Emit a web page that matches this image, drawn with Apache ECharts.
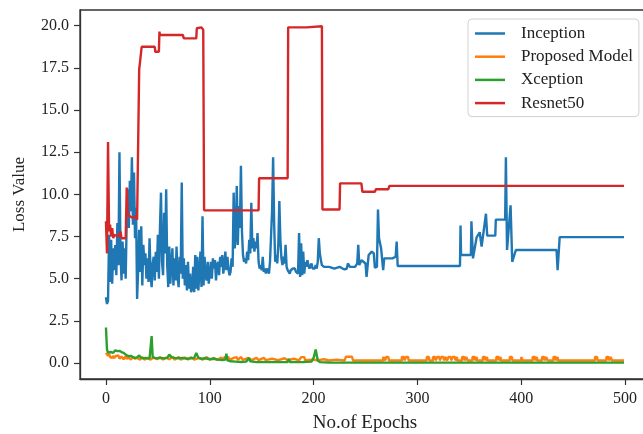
<!DOCTYPE html>
<html>
<head>
<meta charset="utf-8">
<script src="https://cdn.jsdelivr.net/npm/echarts@6/dist/echarts.min.js"></script>
<style>
html,body{margin:0;padding:0;background:#fff;}
#chart{width:643px;height:434px;}
</style>
</head>
<body>
<div id="chart"></div>
<script>
const seriesNames = ['Inception', 'Proposed Model', 'Xception', 'Resnet50'];
const xTicks = [0, 100, 200, 300, 400, 500];
const yTicks = [0, 2.5, 5, 7.5, 10, 12.5, 15, 17.5, 20];

const inception = [
[0,3.9],[1,3.5],[2,3.7],[3,7.6],[4,4.8],[5,7.3],[6,4.7],[7,6.8],[8,5.5],[9,7.0],
[10,5.2],[11,8.3],[12,5.8],[13,12.5],[14,6.5],[15,4.9],[16,7.2],[17,5.3],[18,6.8],[19,5.0],
[20,8.5],[21,10.3],[22,8.0],[23,10.8],[24,9.0],[25,12.2],[26,8.2],[27,11.3],[28,7.4],[29,9.2],
[30,3.8],[31,5.5],[32,7.9],[33,5.4],[34,8.1],[35,4.6],[36,7.0],[37,5.8],[38,6.5],[39,5.0],
[40,6.2],[41,4.8],[42,7.4],[43,5.2],[44,4.5],[45,5.9],[46,6.3],[47,4.9],[48,6.6],[49,5.4],
[50,7.6],[51,5.0],[52,8.0],[53,10.1],[54,6.0],[55,5.2],[56,8.9],[57,6.5],[58,10.3],[59,5.8],
[60,4.5],[61,6.9],[62,4.7],[63,5.9],[64,6.8],[65,4.6],[66,6.2],[67,4.9],[68,6.9],[69,5.1],
[70,4.5],[71,6.3],[72,5.3],[73,10.7],[74,5.0],[75,6.2],[76,4.6],[77,5.8],[78,4.3],[79,6.0],
[80,4.4],[81,5.3],[82,4.2],[83,4.4],[84,5.7],[85,4.2],[86,6.4],[87,4.4],[88,6.3],[89,4.3],
[90,5.4],[91,6.6],[92,4.5],[93,8.7],[94,4.6],[95,6.3],[96,5.1],[97,4.9],[98,6.0],[99,4.7],
[100,5.3],[101,6.0],[102,5.0],[103,6.2],[104,5.6],[105,6.1],[106,4.9],[107,5.8],[108,6.0],[109,5.2],
[110,6.3],[111,5.7],[112,6.4],[113,5.3],[114,5.8],[115,6.6],[116,5.5],[117,6.3],[118,5.6],[119,5.2],
[120,5.4],[121,6.2],[122,5.7],[123,10.1],[124,6.8],[125,7.5],[126,10.5],[127,7.0],[128,9.3],[129,8.0],
[130,11.7],[131,7.8],[132,6.4],[133,6.0],[134,6.2],[135,5.9],[136,6.6],[137,6.1],[138,7.3],[139,6.5],
[140,9.5],[141,6.8],[142,7.4],[143,6.6],[144,7.2],[145,6.8],[146,7.7],[147,6.0],[148,5.6],[149,5.8],
[150,5.5],[151,6.3],[152,5.4],[153,5.6],[154,5.3],[155,5.6],[156,5.5],[157,5.3],[158,6.0],[159,7.5],
[160,9.0],[161,12.2],[162,8.3],[163,6.0],[164,6.4],[165,5.9],[166,7.0],[167,9.6],[168,7.3],[169,6.2],
[170,5.8],[171,6.3],[172,5.9],[173,7.0],[174,5.7],[175,5.5],[176,5.6],[177,5.3],[178,5.5],[179,5.4],
[180,5.6],[181,5.5],[182,5.6],[183,5.4],[184,5.5],[185,5.3],[186,7.7],[187,5.1],[188,7.1],[189,5.2],
[190,6.6],[191,5.3],[192,6.0],[193,5.7],[194,6.1],[195,5.8],[196,5.6],[197,5.7],[198,5.9],[199,5.6],
[200,5.7],[201,5.6],[202,5.8],[203,5.6],[204,6.0],[205,7.4],[206,6.5],[207,6.1],[208,5.8],[210,5.7],
[215,5.7],[220,5.6],[225,5.7],[228,5.6],[230,5.55],[232,5.6],[233,5.9],[235,5.7],[240,5.7],[242,5.9],
[243,7.0],[244,5.8],[246,6.1],[248,6.0],[250,5.9],[251,5.1],[253,6.4],[256,6.6],[258,6.5],[259,5.65],
[261,5.7],[262,9.1],[263,7.4],[264,7.4],[265,6.8],[267,5.5],[268,6.2],[272,6.2],[276,6.2],[279,6.3],
[280,7.2],[281,5.75],[341,5.75],[341.5,8.15],[342,6.4],[351.5,6.4],[352,8.4],[353.5,6.2],[357,7.45],[360,7.75],
[361.8,6.9],[366,8.85],[367.2,7.55],[375,7.55],[375.5,8.5],[384.5,8.5],[385.2,12.2],[386.3,6.7],[389.7,9.35],[391.3,6.0],
[394.8,6.7],[434,6.7],[435,5.5],[437,7.46],[499,7.46]
];

const proposed = [
[0,0.6],[1,0.5],[2,0.42],[3,0.55],[4,0.35],[5,0.45],[6,0.3],[7,0.42],[8,0.28],[9,0.4],
[10,0.3],[12,0.45],[13,0.25],[15,0.38],[17,0.22],[19,0.4],[20,0.25],[22,0.32],[24,0.2],[26,0.35],
[28,0.25],[30,0.3],[33,0.2],[35,0.35],[37,0.2],[40,0.3],[43,0.2],[46,0.32],[49,0.22],[52,0.35],
[55,0.2],[58,0.32],[61,0.22],[64,0.38],[66,0.2],[70,0.35],[72,0.2],[76,0.32],[79,0.2],[82,0.35],
[85,0.2],[90,0.3],[93,0.2],[97,0.35],[100,0.2],[104,0.3],[107,0.18],[111,0.32],[113,0.18],[114,0.35],
[118,0.35],[119,0.18],[123,0.3],[126,0.35],[127,0.18],[130,0.35],[132,0.18],[137,0.3],[140,0.17],[145,0.3],
[147,0.17],[152,0.3],[154,0.17],[160,0.25],[166,0.17],[172,0.28],[175,0.16],[181,0.25],[186,0.16],[188,0.35],
[191,0.35],[192,0.16],[198,0.2],[204,0.16],[210,0.22],[215,0.15],[222,0.2],[230,0.15],[231,0.37],[237,0.37],
[238,0.15],[267,0.15],[267,0.36],[268,0.36],[269,0.15],[270,0.36],[272,0.36],[272.5,0.15],
[285,0.15],[285,0.36],[287,0.36],[287.5,0.15],[289,0.36],[291,0.36],[291.5,0.15],
[309,0.15],[309,0.36],[311,0.36],[311.5,0.15],
[315,0.15],[315,0.36],[317,0.36],[317.5,0.15],[319,0.36],[321,0.36],[321.5,0.15],[323,0.36],[325,0.36],[325.5,0.15],
[327,0.36],[328,0.36],[328.5,0.15],[330,0.36],[332,0.36],[332.5,0.15],[334,0.36],[336,0.36],[336.5,0.15],[338,0.36],[338.5,0.15],
[343,0.15],[343,0.36],[345,0.36],[345.5,0.15],[347,0.36],[348,0.36],[348.5,0.15],
[353,0.15],[353,0.36],[355,0.36],[355.5,0.15],[357,0.36],[357.5,0.15],
[363,0.15],[363,0.36],[365,0.36],[365.5,0.15],[367,0.36],[367.5,0.15],
[376,0.15],[376,0.36],[378,0.36],[378.5,0.15],[380,0.36],[380.5,0.15],
[389,0.15],[389,0.36],[391,0.36],[391.5,0.15],
[400,0.15],[400,0.36],[401,0.36],[401.5,0.15],
[411,0.15],[411,0.36],[413,0.36],[413.5,0.15],[415,0.36],[415.5,0.15],
[420,0.15],[420,0.36],[422,0.36],[422.5,0.15],[424,0.36],[425,0.36],[425.5,0.15],
[431,0.15],[431,0.36],[433,0.36],[433.5,0.15],[435,0.36],[435.5,0.15],
[471,0.15],[471,0.36],[473,0.36],[473.5,0.15],
[482,0.15],[482,0.36],[484,0.36],[484.5,0.15],[486,0.36],[487,0.36],[487.5,0.15],
[499,0.15]
];

const xception = [
[0,2.1],[1,0.8],[2,0.62],[3,0.6],[5,0.65],[7,0.6],[9,0.75],[11,0.7],[13,0.72],[15,0.65],
[17,0.6],[18,0.55],[20,0.45],[22,0.4],[24,0.42],[26,0.35],[28,0.3],[30,0.33],[32,0.45],[34,0.3],
[36,0.28],[38,0.3],[40,0.27],[42,0.28],[43,0.3],[44,1.6],[45,0.35],[47,0.3],[50,0.28],[53,0.3],
[56,0.27],[59,0.3],[61,0.5],[63,0.35],[66,0.3],[70,0.28],[74,0.3],[78,0.25],[82,0.28],[85,0.3],
[87,0.6],[89,0.3],[92,0.25],[96,0.28],[100,0.22],[104,0.25],[108,0.2],[112,0.18],[115,0.2],[116,0.55],
[117,0.15],[120,0.1],[125,0.08],[130,0.06],[135,0.08],[138,0.3],[139,0.1],[145,0.05],[150,0.06],[155,0.05],
[160,0.05],[165,0.06],[170,0.05],[175,0.06],[176,0.25],[177,0.06],[185,0.05],[190,0.06],[198,0.08],[200,0.3],
[202,0.8],[204,0.15],[206,0.05],[215,0.03],[230,0.02],[260,0.02],[300,0.02],[400,0.02],[499,0.02]
];

const resnet50 = [
[0,8.4],[1,6.5],[2,13.1],[3,7.8],[4,8.2],[5,7.5],[6,8.0],[7,7.4],[8,7.6],[12,7.5],
[14,7.8],[15,7.4],[19,7.4],[20,10.4],[21,8.8],[23,8.7],[26,8.6],[28,8.7],[30,8.5],[31,8.4],
[32,17.4],[33,17.5],[34.4,18.75],[47,18.75],[47.5,18.45],[51,18.45],[51.5,19.65],[52,19.45],[74,19.45],[75,19.25],
[87,19.25],[87.5,19.85],[92,19.9],[93.7,19.75],[94.5,9.05],[147,9.05],[147.5,10.95],[175,10.95],[175.5,19.9],[193,19.9],
[193.5,19.97],[208,19.97],[208.5,9.1],[225,9.1],[225.5,10.65],[246,10.65],[247,10.15],[259,10.15],[260,10.3],[272,10.3],
[273,10.5],[499,10.5]
];

const colors = ['#1f77b4', '#ff7f0e', '#2ca02c', '#d62728'];
const dataList = [inception, proposed, xception, resnet50];
const font = "'Liberation Serif', 'Times New Roman', serif";

const chart = echarts.init(document.getElementById('chart'), null, {renderer: 'canvas'});
chart.setOption({
  animation: false,
  backgroundColor: '#fff',
  grid: {left: 80, top: 10, width: 570, height: 369, outerBoundsMode: 'none', containLabel: false,
    show: true, borderColor: '#333', borderWidth: 1.3, backgroundColor: 'transparent'},
  legend: {
    orient: 'vertical', left: 468, top: 19,
    backgroundColor: '#fff', borderColor: '#d0d0d0', borderWidth: 1, borderRadius: 4,
    padding: [6, 6, 5, 7],
    itemWidth: 30, itemHeight: 2.5, itemGap: 6.2, icon: 'rect',
    textStyle: {fontFamily: font, fontSize: 17, color: '#222', lineHeight: 17, padding: [0, 0, 0, 11]},
    data: seriesNames
  },
  xAxis: {
    type: 'value', min: -25, max: 524,
    name: 'No.of Epochs', nameLocation: 'middle', nameGap: 35,
    nameTextStyle: {fontFamily: font, fontSize: 19, color: '#222'},
    axisLine: {show: true, onZero: false, lineStyle: {color: '#333', width: 1.3}},
    axisTick: {show: true, length: 6, lineStyle: {color: '#333', width: 1.2}, customValues: xTicks},
    axisLabel: {fontFamily: font, fontSize: 16, color: '#222', margin: 12, customValues: xTicks},
    splitLine: {show: false}
  },
  yAxis: {
    type: 'value', min: -0.95, max: 20.93,
    name: 'Loss Value', nameLocation: 'middle', nameGap: 52,
    nameTextStyle: {fontFamily: font, fontSize: 17, color: '#222'},
    axisLine: {show: true, onZero: false, lineStyle: {color: '#333', width: 1.3}},
    axisTick: {show: true, length: 6, lineStyle: {color: '#333', width: 1.2}, customValues: yTicks},
    axisLabel: {fontFamily: font, fontSize: 16, color: '#222', margin: 11, customValues: yTicks,
      formatter: v => v.toFixed(1)},
    splitLine: {show: false}
  },
  series: seriesNames.map((n, i) => ({
    name: n, type: 'line', data: dataList[i], showSymbol: false, symbol: 'none',
    lineStyle: {color: colors[i], width: 2.4}, itemStyle: {color: colors[i]},
    emphasis: {disabled: true}
  }))
});
</script>
</body>
</html>
